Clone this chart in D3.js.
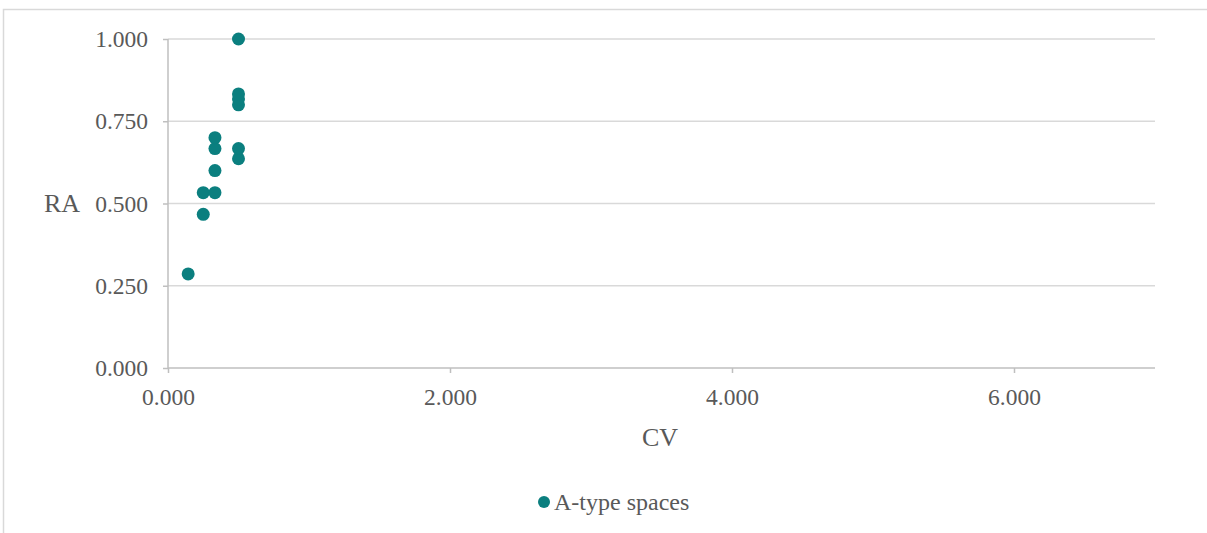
<!DOCTYPE html>
<html><head><meta charset="utf-8">
<script src="https://cdn.jsdelivr.net/npm/d3@7"></script>
<style>
html,body{margin:0;padding:0;background:#fff;}
text{font-family:"Liberation Serif","Times New Roman",serif;fill:#595959;}
</style></head>
<body>
<svg id="chart" width="1207" height="533"></svg>
<script>
const cvValues = [0.143, 0.25, 0.25, 0.333, 0.333, 0.333, 0.333, 0.5, 0.5, 0.5, 0.5, 0.5, 0.5];
const raValues = [0.286, 0.467, 0.533, 0.533, 0.6, 0.667, 0.7, 0.636, 0.667, 0.8, 0.818, 0.833, 1.0];
const xTicks = [0, 2, 4, 6];
const yTicks = [0, 0.25, 0.5, 0.75, 1.0];
const seriesName = "A-type spaces";
const xTitle = "CV", yTitle = "RA";

const svg = d3.select("#chart");
const color = "#0b7f7f";
const plotL = 168, plotR = 1155, plotT = 39, plotB = 368;
const x = d3.scaleLinear().domain([0, 7]).range([plotL, plotR]);
const y = d3.scaleLinear().domain([0, 1]).range([plotB, plotT]);

// outer frame
svg.append("rect").attr("x", 3.5).attr("y", 9.5).attr("width", 1300).attr("height", 600)
  .attr("fill", "none").attr("stroke", "#d9d9d9").attr("stroke-width", 1.5);

// gridlines
svg.append("g").selectAll("line").data(yTicks.filter(d => d > 0)).join("line")
  .attr("x1", plotL).attr("x2", plotR).attr("y1", d => y(d)).attr("y2", d => y(d))
  .attr("stroke", "#d9d9d9").attr("stroke-width", 1.5);

// y axis
const yAxis = d3.axisLeft(y).tickValues(yTicks).tickFormat(d3.format(".3f")).tickSize(5).tickPadding(15);
const gy = svg.append("g").attr("transform", `translate(${plotL},0)`).call(yAxis);
gy.select(".domain").attr("stroke", "#bfbfbf").attr("stroke-width", 1.5).attr("d", `M0,${plotT}V${plotB}`);
gy.selectAll(".tick line").attr("stroke", "#bfbfbf").attr("stroke-width", 1.5);
gy.selectAll(".tick text").attr("font-size", 23.5).attr("fill", "#595959").attr("font-family", "Liberation Serif");

// x axis
const xAxis = d3.axisBottom(x).tickValues(xTicks).tickFormat(d3.format(".3f")).tickSize(5).tickPadding(15);
const gx = svg.append("g").attr("transform", `translate(0,${plotB})`).call(xAxis);
gx.select(".domain").attr("stroke", "#bfbfbf").attr("stroke-width", 1.5).attr("d", `M${plotL},0H${plotR}`);
gx.selectAll(".tick line").attr("stroke", "#bfbfbf").attr("stroke-width", 1.5);
gx.selectAll(".tick text").attr("font-size", 23.5).attr("fill", "#595959").attr("font-family", "Liberation Serif");

// axis titles
svg.append("text").attr("x", 660).attr("y", 446).attr("text-anchor", "middle").attr("font-size", 26).text(xTitle);
svg.append("text").attr("x", 62).attr("y", 212).attr("text-anchor", "middle").attr("font-size", 26).text(yTitle);

// points
const pts = cvValues.map((v, i) => ({cv: v, ra: raValues[i]}));
svg.append("g").selectAll("circle").data(pts).join("circle")
  .attr("cx", d => x(d.cv)).attr("cy", d => y(d.ra)).attr("r", 6.5).attr("fill", color);

// legend
const lg = svg.append("g").attr("transform", "translate(544,502)");
lg.append("circle").attr("r", 6).attr("fill", color);
lg.append("text").attr("x", 10).attr("y", 8).attr("font-size", 24).text(seriesName);
</script>
</body></html>
